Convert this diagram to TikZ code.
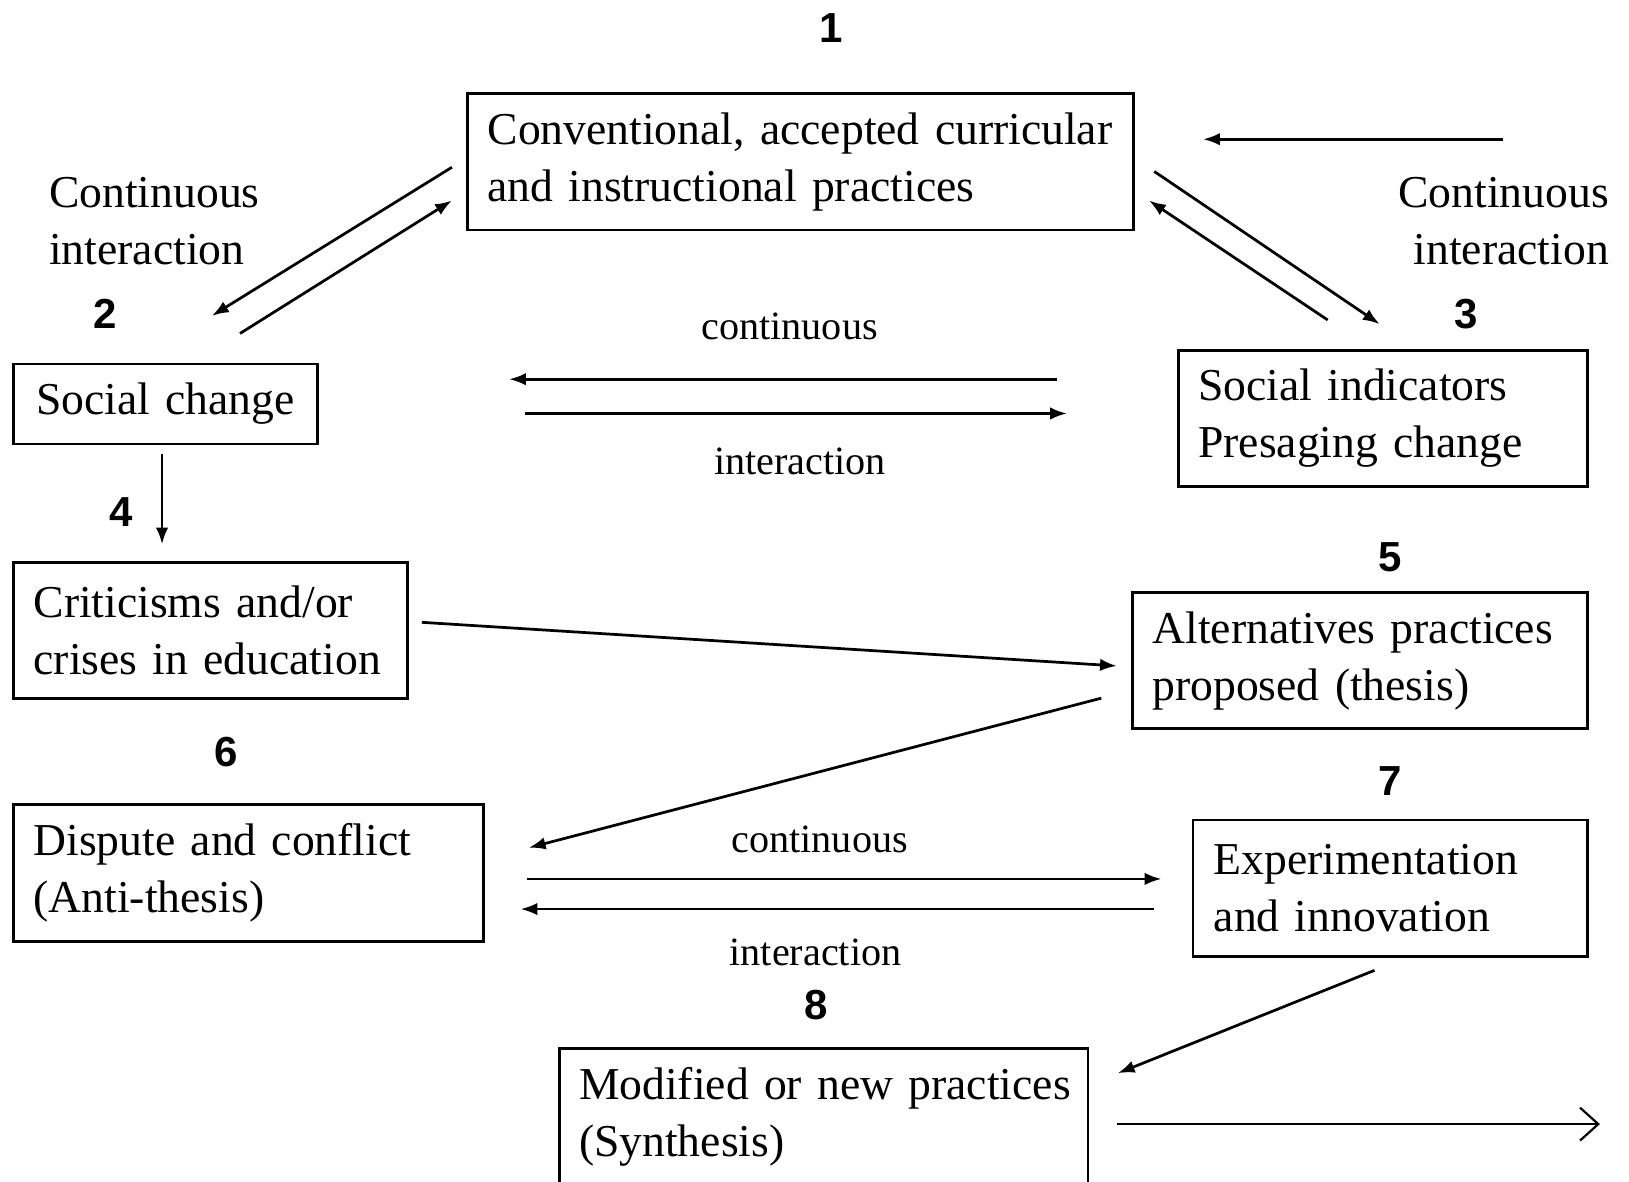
\documentclass[tikz,border=0pt]{standalone}
\usepackage{fontspec}
\setmainfont{Liberation Serif}
\setsansfont{Liberation Sans}
\usetikzlibrary{arrows.meta, positioning}
\newcommand{\boxfont}{\fontsize{12.5pt}{15.6pt}\selectfont}
\newcommand{\lblfont}{\fontsize{11pt}{13pt}\selectfont}
\newcommand{\numfont}{\fontsize{11.5pt}{13pt}\selectfont\sffamily\bfseries}
\tikzset{
  box/.style={draw, anchor=north west, align=left, inner xsep=0.19cm, inner ysep=0pt, minimum height=1.31cm, font=\boxfont},
  num/.style={font=\numfont},
  lbl/.style={font=\lblfont},
  side/.style={font=\boxfont, inner sep=0pt}
}
\begin{document}
\begin{tikzpicture}[->, >={Latex[length=4.6pt,width=3.4pt]}, line width=0.75pt]

		\clip (0,0) rectangle (15.68,-11.37);

		\node (1) [box, text width=6.03cm] at (4.49,-0.89) {\mbox{Conventional, accepted curricular}\\\mbox{and instructional practices}};
		\node (2) [box, text width=2.54cm, minimum height=0.77cm, align=center] at (0.12,-3.49) {\mbox{Social change}};
		\node (3) [box, text width=3.56cm] at (11.33,-3.36) {\mbox{Social indicators}\\\mbox{Presaging change}};
		\node (4) [box, text width=3.41cm] at (0.12,-5.40) {\mbox{Criticisms and/or}\\\mbox{crises in education}};
		\node (5) [box, text width=4.00cm] at (10.89,-5.69) {\mbox{Alternatives practices}\\\mbox{proposed (thesis)}};
		\node (6) [box, text width=4.14cm, minimum height=1.32cm] at (0.12,-7.73) {\mbox{Dispute and conflict}\\\mbox{(Anti-thesis)}};
		\node (7) [box, text width=3.40cm, inner xsep=0.2cm] at (11.47,-7.88) {\mbox{Experimentation}\\\mbox{and innovation}};
		\node (8) [box, text width=4.71cm] at (5.37,-10.08) {\mbox{Modified or new practices}\\\mbox{(Synthesis)}};

		\node (n1) [num] at (8.00,-0.27) {1};
		\node (n2) [num] at (1.01,-3.02) {2};
		\node (n3) [num] at (14.11,-3.02) {3};
		\node (n4) [num] at (1.17,-4.93) {4};
		\node (n5) [num] at (13.38,-5.36) {5};
		\node (n6) [num] at (2.18,-7.24) {6};
		\node (n7) [num] at (13.38,-7.52) {7};
		\node (n8) [num] at (7.86,-9.67) {8};

		\node (cl) [side, anchor=west, align=left] at (0.46,-2.13) {Continuous\\interaction};
		\node (cr) [side, anchor=east, align=right] at (15.50,-2.13) {Continuous\\interaction};
		\node (c23) [lbl] at (7.60,-3.14) {continuous};
		\node (i23) [lbl] at (7.70,-4.44) {interaction};
		\node (c67) [lbl] at (7.89,-8.08) {continuous};
		\node (i67) [lbl] at (7.85,-9.17) {interaction};

		\coordinate (1a) at (4.35,-1.61);  \coordinate (2a) at (2.04,-3.04);
		\coordinate (2b) at (2.31,-3.21);  \coordinate (1b) at (4.35,-1.93);
		\coordinate (3c) at (10.17,-3.65); \coordinate (2c) at (4.90,-3.65);
		\coordinate (2d) at (5.05,-3.98);  \coordinate (3d) at (10.27,-3.98);
		\coordinate (re) at (14.47,-1.34); \coordinate (1e) at (11.58,-1.34);
		\coordinate (1f) at (11.11,-1.65); \coordinate (3f) at (13.28,-3.12);
		\coordinate (3g) at (12.78,-3.08); \coordinate (1g) at (11.06,-1.93);
		\coordinate (2h) at (1.56,-4.37);  \coordinate (4h) at (1.56,-5.24);
		\coordinate (4i) at (4.06,-5.99);  \coordinate (5i) at (10.75,-6.41);
		\coordinate (5j) at (10.60,-6.72); \coordinate (6j) at (5.09,-8.16);
		\coordinate (6k) at (5.07,-8.46);  \coordinate (7k) at (11.18,-8.46);
		\coordinate (7l) at (11.11,-8.75); \coordinate (6l) at (5.01,-8.75);
		\coordinate (7m) at (13.23,-9.34); \coordinate (8m) at (10.76,-10.33);
		\coordinate (8n) at (10.75,-10.82); \coordinate (out) at (15.40,-10.82);

		\draw (1a) -- (2a);
		\draw (2b) -- (1b);
		\draw (3c) -- (2c);
		\draw (2d) -- (3d);
		\draw (re) -- (1e);
		\draw (1f) -- (3f);
		\draw (3g) -- (1g);
		\draw (2h) -- (4h);
		\draw (4i) -- (5i);
		\draw (5j) -- (6j);
		\draw (6k) -- (7k);
		\draw (7l) -- (6l);
		\draw (7m) -- (8m);
		\draw [-{Straight Barb[length=5pt,width=9pt]}, line width=0.6pt] (8n) -- (out);

\end{tikzpicture}
\end{document}
